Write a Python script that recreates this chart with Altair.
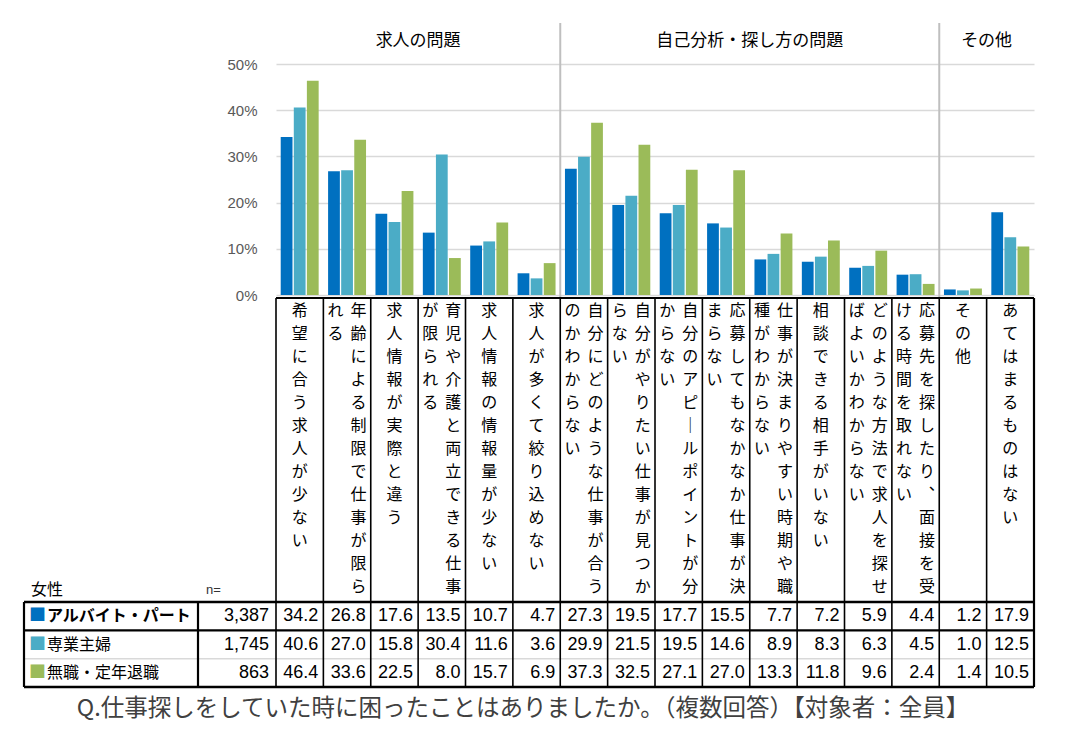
import altair as alt
import pandas as pd

# ---------------- data ----------------
groups = ["求人の問題", "自己分析・探し方の問題", "その他"]
group_sizes = [6, 8, 2]
categories = [
    "希望に合う求人が少ない",
    "年齢による制限で仕事が限られる",
    "求人情報が実際と違う",
    "育児や介護と両立できる仕事が限られる",
    "求人情報の情報量が少ない",
    "求人が多くて絞り込めない",
    "自分にどのような仕事が合うのかわからない",
    "自分がやりたい仕事が見つからない",
    "自分のアピールポイントが分からない",
    "応募してもなかなか仕事が決まらない",
    "仕事が決まりやすい時期や職種がわからない",
    "相談できる相手がいない",
    "どのような方法で求人を探せばよいかわからない",
    "応募先を探したり、面接を受ける時間を取れない",
    "その他",
    "あてはまるものはない",
]
series = ["アルバイト・パート", "専業主婦", "無職・定年退職"]
n_values = ["3,387", "1,745", "863"]
vals_part = [34.2, 26.8, 17.6, 13.5, 10.7, 4.7, 27.3, 19.5, 17.7, 15.5, 7.7, 7.2, 5.9, 4.4, 1.2, 17.9]
vals_housewife = [40.6, 27.0, 15.8, 30.4, 11.6, 3.6, 29.9, 21.5, 19.5, 14.6, 8.9, 8.3, 6.3, 4.5, 1.0, 12.5]
vals_unemployed = [46.4, 33.6, 22.5, 8.0, 15.7, 6.9, 37.3, 32.5, 27.1, 27.0, 13.3, 11.8, 9.6, 2.4, 1.4, 10.5]
y_ticks = [0, 10, 20, 30, 40, 50]
caption = "Q.仕事探しをしていた時に困ったことはありましたか。（複数回答）【対象者：全員】"
colors = ["#0070C0", "#4BACC6", "#9BBB59"]

# ---------------- layout constants ----------------
JP = "Noto Sans CJK JP"
NUM = "Liberation Sans"
W = 758
STEP = W / len(categories)
H_BAR = 231
H_LAB = 301
H_TAB = 85
LEFT_EDGE = -252
N_EDGE = -78

# ---------------- tables ----------------
all_vals = [vals_part, vals_housewife, vals_unemployed]
long = pd.DataFrame(
    [{"cat": c, "series": s, "value": v[i]}
     for s, v in zip(series, all_vals) for i, c in enumerate(categories)]
)
cat_df = pd.DataFrame({"cat": categories})
one = pd.DataFrame({"a": [0]})

starts = [sum(group_sizes[:k]) for k in range(len(group_sizes))]
head_df = pd.DataFrame({
    "group": groups,
    "anchor": [categories[st + sz // 2 - 1] for st, sz in zip(starts, group_sizes)],
})
sep_df = pd.DataFrame({"cat": [categories[st] for st in starts[1:]]})


def vert(s):
    return list(s.replace("、", "︑").replace("ー", "｜"))


lab_df = pd.DataFrame([
    {"cat": c, "ncol": 1 if len(c) <= 13 else 2, "col1": vert(c[:13]), "col2": vert(c[13:])}
    for c in categories
])
row_df = pd.DataFrame({"series": series, "n": n_values, "idx": [0, 1, 2]})

x_scale = alt.Scale(domain=categories, paddingInner=0, paddingOuter=0)
color_scale = alt.Scale(domain=series, range=colors)
y_rows = alt.Scale(domain=series, paddingInner=0, paddingOuter=0)

# ---------------- bar chart ----------------
bars = alt.Chart(long).mark_bar().encode(
    x=alt.X("cat:N", scale=x_scale, axis=None),
    xOffset=alt.XOffset("series:N", scale=alt.Scale(domain=series, paddingInner=0.1, paddingOuter=0.36)),
    y=alt.Y("value:Q", scale=alt.Scale(domain=[0, 50], nice=False),
            axis=alt.Axis(values=y_ticks, labelExpr="datum.value + '%'", grid=True,
                          gridColor="#d9d9d9", gridWidth=1.5, domain=False, ticks=False,
                          labelPadding=19, labelFontSize=15, labelFont=NUM,
                          labelColor="#595959", title=None)),
    color=alt.Color("series:N", scale=color_scale, legend=None),
)
seps = alt.Chart(sep_df).mark_rule(color="#bfbfbf", strokeWidth=2).encode(
    x=alt.X("cat:N", scale=x_scale, bandPosition=0, axis=None),
    y=alt.value(-41), y2=alt.value(H_BAR + 3),
)
heads = alt.Chart(head_df).mark_text(fontSize=17, font=JP, color="black", baseline="middle").encode(
    x=alt.X("anchor:N", scale=x_scale, bandPosition=1, axis=None),
    y=alt.value(-23),
    text="group:N",
)
bar_chart = alt.layer(bars, seps, heads).properties(width=W, height=H_BAR)

# ---------------- vertical label area ----------------
def lab_text(cond, field, dx):
    return alt.Chart(lab_df).transform_filter(cond).mark_text(
        baseline="top", align="center", lineHeight=23, fontSize=16, font=JP,
        color="black", dx=dx,
    ).encode(
        x=alt.X("cat:N", scale=x_scale, axis=None),
        y=alt.value(5),
        text=alt.Text(f"{field}:N"),
    )

lab_single = lab_text("datum.ncol == 1", "col1", 0)
lab_right = lab_text("datum.ncol == 2", "col1", 11.5)
lab_left = lab_text("datum.ncol == 2", "col2", -11.5)

lab_vlines = alt.Chart(cat_df).mark_rule(color="black", strokeWidth=1.6).encode(
    x=alt.X("cat:N", scale=x_scale, bandPosition=0, axis=None),
    y=alt.value(0), y2=alt.value(H_LAB + 3),
)
lab_right_edge = alt.Chart(one).mark_rule(color="black", strokeWidth=2.2).encode(
    x=alt.value(W), y=alt.value(0), y2=alt.value(H_LAB + 3))
lab_top = alt.Chart(one).mark_rule(color="black", strokeWidth=2.2).encode(
    x=alt.value(0), x2=alt.value(W), y=alt.value(0))
lab_female = alt.Chart(one).mark_text(align="left", baseline="bottom", fontSize=16, font=JP, color="black").encode(
    x=alt.value(-245), y=alt.value(H_LAB - 1), text=alt.value("女性"))
lab_n = alt.Chart(one).mark_text(align="left", baseline="bottom", fontSize=13, font=NUM, color="#333333").encode(
    x=alt.value(-70), y=alt.value(H_LAB - 2), text=alt.value("n="))

lab_chart = alt.layer(lab_vlines, lab_right_edge, lab_top, lab_single, lab_right, lab_left,
                      lab_female, lab_n).properties(width=W, height=H_LAB)

# ---------------- table ----------------
ycell = alt.Y("series:N", scale=y_rows, axis=None)
tab_vals = alt.Chart(long).mark_text(align="right", baseline="middle", fontSize=18, font=NUM,
                                     color="black", dx=STEP / 2 - 5).encode(
    x=alt.X("cat:N", scale=x_scale, axis=None), y=ycell,
    text=alt.Text("value:Q", format=".1f"),
)
tab_sq = alt.Chart(row_df).mark_text(align="left", baseline="middle", fontSize=17, font=JP, text="■").encode(
    x=alt.value(-247), y=ycell, color=alt.Color("series:N", scale=color_scale, legend=None))
tab_lab_b = alt.Chart(row_df).transform_filter("datum.idx == 0").mark_text(
    align="left", baseline="middle", fontSize=16, font=JP, fontWeight="bold", color="black").encode(
    x=alt.value(-229), y=ycell, text="series:N")
tab_lab = alt.Chart(row_df).transform_filter("datum.idx > 0").mark_text(
    align="left", baseline="middle", fontSize=16, font=JP, color="black").encode(
    x=alt.value(-229), y=ycell, text="series:N")
tab_n = alt.Chart(row_df).mark_text(align="right", baseline="middle", fontSize=18, font=NUM, color="black").encode(
    x=alt.value(-7), y=ycell, text="n:N")

tab_vlines = alt.Chart(cat_df).mark_rule(color="black", strokeWidth=1.6).encode(
    x=alt.X("cat:N", scale=x_scale, bandPosition=0, axis=None),
    y=alt.value(0), y2=alt.value(H_TAB),
)
edge_df = pd.DataFrame({"xp": [LEFT_EDGE, N_EDGE, W]})
tab_edges = alt.Chart(edge_df).mark_rule(color="black", strokeWidth=2.2).encode(
    x=alt.X("xp:Q", scale=None), y=alt.value(0), y2=alt.value(H_TAB))
hedge_df = pd.DataFrame({"yp": [0, H_TAB]})
tab_hedges = alt.Chart(hedge_df).mark_rule(color="black", strokeWidth=2.4).encode(
    x=alt.value(LEFT_EDGE), x2=alt.value(W), y=alt.Y("yp:Q", scale=None))
tab_row1 = alt.Chart(row_df).transform_filter("datum.idx == 1").mark_rule(color="black", strokeWidth=2.2).encode(
    x=alt.value(LEFT_EDGE), x2=alt.value(W), y=alt.Y("series:N", scale=y_rows, bandPosition=0, axis=None))
tab_row2 = alt.Chart(row_df).transform_filter("datum.idx == 2").mark_rule(color="#d9d9d9", strokeWidth=1.5).encode(
    x=alt.value(LEFT_EDGE), x2=alt.value(W), y=alt.Y("series:N", scale=y_rows, bandPosition=0, axis=None))
tab_caption = alt.Chart(one).mark_text(align="center", baseline="middle", fontSize=23.5, font=JP, color="#404040").encode(
    x=alt.value(247), y=alt.value(H_TAB + 22), text=alt.value(caption))

tab_chart = alt.layer(tab_row2, tab_vlines, tab_edges, tab_hedges, tab_row1, tab_vals, tab_sq,
                      tab_lab_b, tab_lab, tab_n, tab_caption).properties(width=W, height=H_TAB)

chart = alt.vconcat(bar_chart, lab_chart, tab_chart, spacing=3, bounds="flush").properties(
    padding={"left": 14, "top": 14, "right": 5, "bottom": 5}
).configure_view(stroke=None)

chart.save("out.html", embed_options={"renderer": "svg", "actions": False})
